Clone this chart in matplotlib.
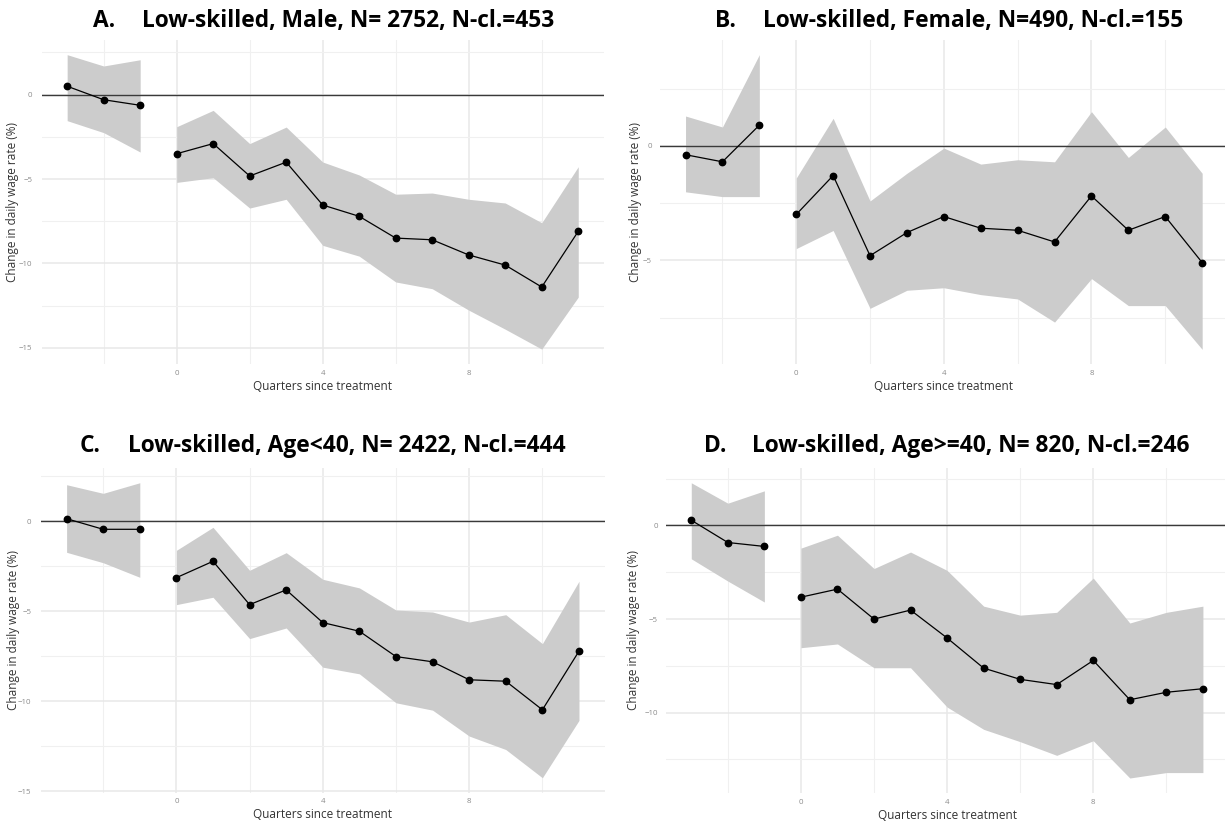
import numpy as np
import matplotlib.pyplot as plt
from matplotlib.ticker import MultipleLocator, FixedLocator

# quarters relative to treatment (-3..-1 pre, 0..11 post)
quarters = np.array([-3, -2, -1, 0, 1, 2, 3, 4, 5, 6, 7, 8, 9, 10, 11])

# A. Low-skilled, Male
est_a = [0.5, -0.3, -0.63, -3.5, -2.9, -4.82, -4.0, -6.54, -7.21, -8.5, -8.6, -9.5, -10.1, -11.4, -8.1]
lo_a = [-1.54, -2.25, -3.4, -5.2, -4.92, -6.72, -6.2, -8.93, -9.57, -11.1, -11.5, -12.77, -13.9, -15.08, -12.0]
hi_a = [2.37, 1.7, 2.07, -1.9, -0.93, -2.9, -1.92, -3.99, -4.76, -5.9, -5.83, -6.2, -6.42, -7.59, -4.27]

# B. Low-skilled, Female
est_b = [-0.39, -0.7, 0.9, -3.0, -1.3, -4.8, -3.79, -3.09, -3.6, -3.69, -4.2, -2.19, -3.69, -3.09, -5.1]
lo_b = [-2.01, -2.22, -2.22, -4.49, -3.7, -7.1, -6.31, -6.2, -6.5, -6.69, -7.7, -5.8, -6.98, -6.98, -8.89]
hi_b = [1.3, 0.82, 3.98, -1.41, 1.2, -2.41, -1.2, -0.1, -0.8, -0.61, -0.7, 1.49, -0.51, 0.82, -1.2]

# C. Low-skilled, Age<40
est_c = [0.15, -0.44, -0.44, -3.13, -2.22, -4.63, -3.81, -5.63, -6.11, -7.52, -7.81, -8.81, -8.89, -10.48, -7.22]
lo_c = [-1.72, -2.3, -3.11, -4.63, -4.22, -6.52, -5.93, -8.11, -8.48, -10.09, -10.5, -11.94, -12.69, -14.26, -11.07]
hi_c = [2.04, 1.56, 2.15, -1.61, -0.33, -2.72, -1.74, -3.22, -3.7, -4.93, -5.04, -5.6, -5.19, -6.8, -3.33]

# D. Low-skilled, Age>=40
est_d = [0.28, -0.91, -1.12, -3.83, -3.4, -5.0, -4.52, -6.01, -7.62, -8.22, -8.5, -7.21, -9.31, -8.91, -8.72]
lo_d = [-1.78, -2.97, -4.09, -6.53, -6.33, -7.6, -7.6, -9.7, -10.89, -11.55, -12.28, -11.5, -13.49, -13.2, -13.2]
hi_d = [2.28, 1.19, 1.85, -1.21, -0.52, -2.3, -1.42, -2.4, -4.31, -4.79, -4.64, -2.81, -5.21, -4.64, -4.31]

titles = ["Low-skilled, Male, N= 2752, N-cl.=453",
          "Low-skilled, Female, N=490, N-cl.=155",
          "Low-skilled, Age<40, N= 2422, N-cl.=444",
          "Low-skilled, Age>=40, N= 820, N-cl.=246"]
letters = ["A.", "B.", "C.", "D."]

W, H = 1225, 825
fig = plt.figure(figsize=(W / 100, H / 100), dpi=100)

# axes boxes in pixels: left, top, right, bottom
boxes = [(41.6, 40, 603.8, 363.8),
         (659.7, 40, 1228, 364),
         (41, 468, 604.6, 792.5),
         (665.7, 468, 1228.5, 792.8)]
ylims = [(-15.95, 3.24), (-9.53, 4.62), (-15.08, 2.97), (-14.28, 3.07)]
# title positions (letter x, text x, baseline y) in pixels
title_pos = [(93.3, 141.7, 26.7), (715.4, 763.4, 26.7), (80, 128, 452.3), (704.5, 751.7, 452.3)]

series = [(est_a, lo_a, hi_a), (est_b, lo_b, hi_b), (est_c, lo_c, hi_c), (est_d, lo_d, hi_d)]

for i, (est, lo, hi) in enumerate(series):
    l, t, r, b = boxes[i]
    ax = fig.add_axes([l / W, 1 - b / H, (r - l) / W, (b - t) / H])
    est, lo, hi = np.array(est), np.array(lo), np.array(hi)
    for mask in (quarters < 0, quarters >= 0):
        ax.fill_between(quarters[mask], lo[mask], hi[mask], color='#cccccc', lw=0, zorder=2)
        ax.plot(quarters[mask], est[mask], color='black', lw=0.9, marker='o', ms=4.6, zorder=4)
    ax.axhline(0, color='#3a3a3a', lw=1.0, zorder=3)

    ax.set_xlim(-3.7, 11.7)
    ax.set_ylim(*ylims[i])
    ax.xaxis.set_major_locator(FixedLocator([0, 4, 8]))
    ax.xaxis.set_minor_locator(FixedLocator([-2, 2, 6, 10]))
    ax.yaxis.set_major_locator(MultipleLocator(5))
    ax.yaxis.set_minor_locator(FixedLocator([2.5, -2.5, -7.5, -12.5]))
    ax.grid(which='major', color='#e8e8e8', lw=1.1, zorder=0)
    ax.grid(which='minor', color='#f0f0f0', lw=0.8, zorder=0)
    ax.set_axisbelow(True)
    for s in ax.spines.values():
        s.set_visible(False)
    ax.tick_params(which='both', length=0, labelsize=5.7, labelcolor='#8c8c8c')
    ax.tick_params(axis='x', pad=4.2)
    ax.tick_params(axis='y', pad=[6.8, 5.8, 6.8, 5.8][i])
    for lab in ax.get_xticklabels() + ax.get_yticklabels():
        lab.set_family('Open Sans')

    ah = b - t
    aw = r - l
    ax.text(0.5, -22.5 / ah, "Quarters since treatment", transform=ax.transAxes,
            ha='center', va='center', fontsize=8.5, color='#333333', family='Open Sans')
    ylab_x = [12.7, 635, 13.7, 634][i]
    ax.text((ylab_x - l) / aw, 0.5, "Change in daily wage rate (%)", transform=ax.transAxes,
            rotation=90, ha='center', va='center', fontsize=8.5, color='#333333', family='Open Sans')

# panel titles: size them so panel A's title spans its width in the original
renderer = fig.canvas.get_renderer()
probe = fig.text(0, 0, titles[0], fontsize=15, fontweight='bold', family='Open Sans')
title_size = 15 * 413.3 / probe.get_window_extent(renderer).width
probe.remove()

for i in range(4):
    lx, tx, ty = title_pos[i]
    fig.text(lx / W, 1 - ty / H, letters[i], ha='left', va='baseline',
             fontsize=title_size, fontweight='bold', family='Open Sans')
    fig.text(tx / W, 1 - ty / H, titles[i], ha='left', va='baseline',
             fontsize=title_size, fontweight='bold', family='Open Sans')

fig.savefig('out.png', dpi=100, facecolor='white')
